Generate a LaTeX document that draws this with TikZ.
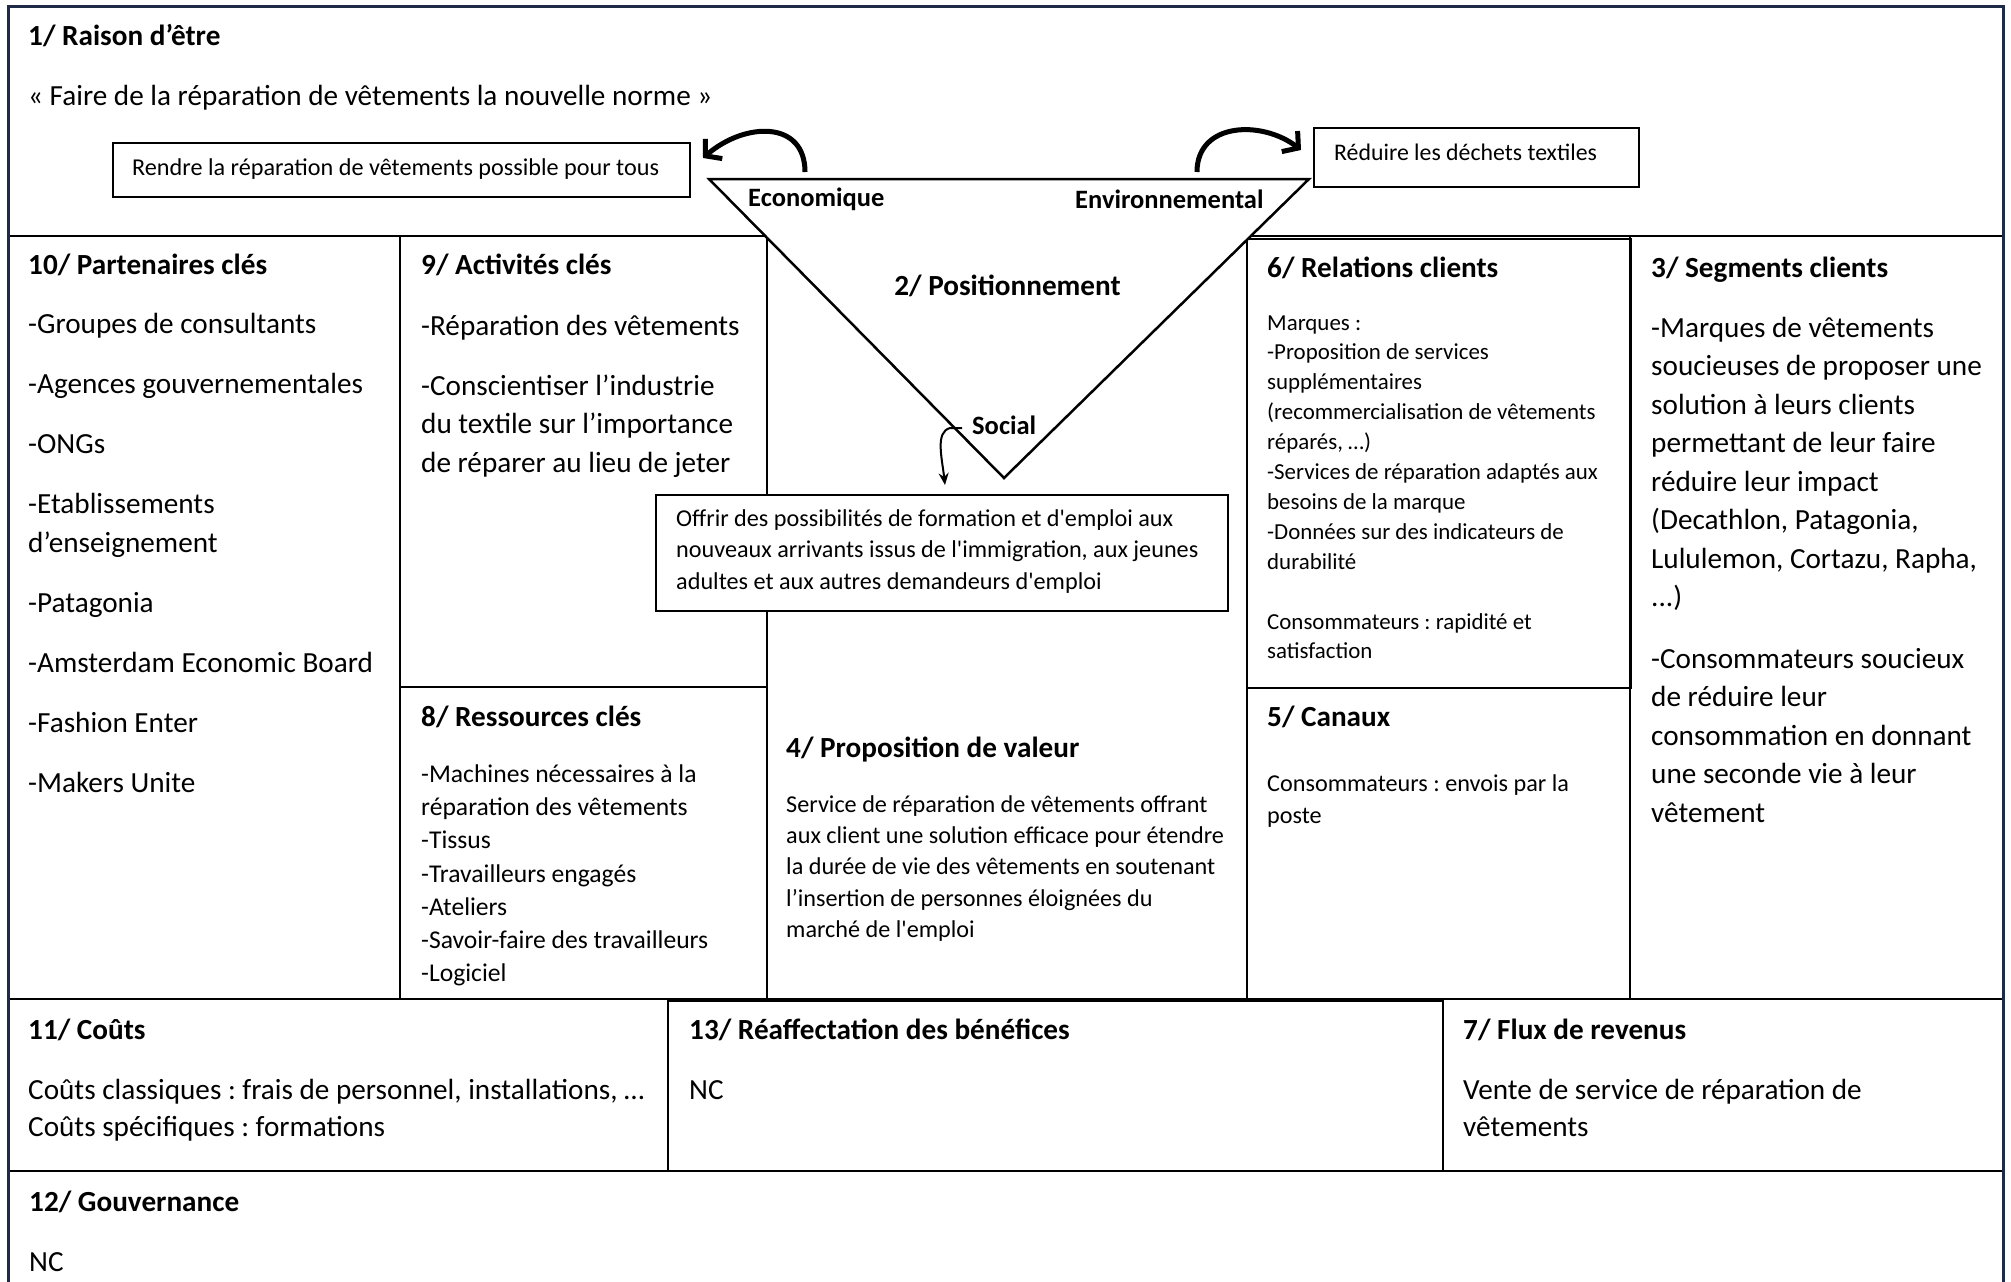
\documentclass[tikz,border=0pt]{standalone}
\usepackage{fontspec}
\setmainfont{Carlito}[Ligatures=TeXOff]
\usetikzlibrary{arrows.meta}
\definecolor{framecol}{RGB}{30,42,72}
\frenchspacing
\tikzset{
  hdr/.style={inner sep=0, anchor=base west, font=\fontsize{29.2}{35}\selectfont\bfseries},
  body/.style={inner sep=0, anchor=base west, font=\fontsize{29.2}{38.5}\selectfont},
  small/.style={inner sep=0, anchor=base west, font=\fontsize{22.9}{29.9}\selectfont},
  note txt/.style={inner sep=0, anchor=base west, font=\fontsize{24.2}{31.5}\selectfont},
  mid/.style={inner sep=0, anchor=base west, font=\fontsize{29.2}{37}\selectfont},
  lbl/.style={inner sep=0, anchor=base west, font=\fontsize{26.5}{30}\selectfont\bfseries},
  cell/.style={line width=1.5pt, draw=black},
  note/.style={draw=black, line width=1.5pt, fill=white},
  bigarrow/.style={line width=5pt, -{Straight Barb[length=11pt,width=26pt,line width=5pt]}},
}
\newcommand{\lns}[2][900pt]{\parbox[t]{#1}{\raggedright #2}}
\begin{document}
\begin{tikzpicture}[x=1pt,y=-1pt]
\useasboundingbox[fill=white] (0,0) rectangle (2011,1282);

% coordinates of grid
\coordinate (L) at (8,6);
\coordinate (R) at (2003,6);

% grid lines
\draw[cell] (8,236) -- (2003,236);
\draw[cell] (400,236) -- (400,999);
\draw[cell] (767,236) -- (767,999);
\draw[cell] (1247,236) -- (1247,999);
\draw[cell] (1630,236) -- (1630,999);
\draw[cell] (400,687) -- (767,687);
\draw[cell] (1247,239) rectangle (1631,688);
\draw[cell] (8,999) -- (2003,999);
\draw[cell] (668,999) -- (668,1171);
\draw[cell] (1443,999) -- (1443,1171);
\draw[cell] (8,1171) -- (2003,1171);
\draw[line width=2pt] (668,1001) rectangle (1443,1171);
\draw[line width=2.5pt] (767,999) -- (1028,999);

% outer frame
\draw[framecol, line width=3pt] (8,1282) -- (L) -- (R) -- (2003,1282);

% triangle
\coordinate (T1) at (709,179);
\coordinate (T2) at (1309,179);
\coordinate (T3) at (1004,478);
\draw[line width=2.5pt, fill=white, line join=miter] (T1) -- (T2) -- (T3) -- cycle;

% note boxes
\node[note, minimum width=577pt, minimum height=54pt, inner sep=0, anchor=north west] (boxR) at (112,142) {};
\node[note, minimum width=325pt, minimum height=59pt, inner sep=0, anchor=north west] (boxD) at (1313,127) {};
\node[note, minimum width=572pt, minimum height=116pt, inner sep=0, anchor=north west] (boxO) at (655,494) {};

% arrows
\coordinate (E1) at (805,172);
\coordinate (E2) at (703,158);
\draw[bigarrow] (E1) .. controls (805,120) and (745,122) .. (E2);
\coordinate (V1) at (1197,172);
\coordinate (V2) at (1301,150);
\draw[bigarrow] (V1) .. controls (1197,122) and (1262,120) .. (V2);
\coordinate (S0) at (962,428);
\coordinate (S2) at (945,485);
\draw[line width=2pt, -{Stealth[length=12pt,width=10pt]}] (S0) -- (950,428) .. controls (935,432) and (942,458) .. (S2);

% texts section 1
\node[hdr] (h1) at (28,45) {1/ Raison d’être};
\node[mid] (t1) at (28,105) {« Faire de la réparation de vêtements la nouvelle norme »};
\node[note txt] (tR) at (132,175) {Rendre la réparation de vêtements possible pour tous};
\node[small, font=\fontsize{23.8}{29.9}\selectfont] (tD) at (1334,160) {Réduire les déchets textiles};
\node[lbl] (eco) at (748,206) {Economique};
\node[lbl] (env) at (1075,208) {Environnemental};
\node[lbl] (soc) at (972,434) {Social};
\node[hdr, anchor=base] (h2) at (1007.5,295) {2/ Positionnement};
\node[note txt] (tO) at (676,526) {\lns{Offrir des possibilités de formation et d'emploi aux\\nouveaux arrivants issus de l'immigration, aux jeunes\\adultes et aux autres demandeurs d'emploi}};

% 10
\node[hdr] (h10) at (28,274) {10/ Partenaires clés};
\node[body] (t10) at (28,333.5) {\lns{-Groupes de consultants\\[21.5pt]-Agences gouvernementales\\[21.5pt]-ONGs\\[21.5pt]-Etablissements\\d’enseignement\\[21.5pt]-Patagonia\\[21.5pt]-Amsterdam Economic Board\\[21.5pt]-Fashion Enter\\[21.5pt]-Makers Unite}};

% 9
\node[hdr] (h9) at (421,274) {9/ Activités clés};
\node[body] (t9) at (421,335) {\lns{-Réparation des vêtements\\[21.5pt]-Conscientiser l’industrie\\du textile sur l’importance\\de réparer au lieu de jeter}};

% 8
\node[hdr] (h8) at (421,726) {8/ Ressources clés};
\node[inner sep=0, anchor=base west, font=\fontsize{25.6}{33.2}\selectfont] (t8) at (421,782.5) {\lns{-Machines nécessaires à la\\réparation des vêtements\\-Tissus\\-Travailleurs engagés\\-Ateliers\\-Savoir-faire des travailleurs\\-Logiciel}};

% 4
\node[hdr] (h4) at (786,757) {4/ Proposition de valeur};
\node[note txt, font=\fontsize{24.2}{31.4}\selectfont] (t4) at (786,812) {\lns{Service de réparation de vêtements offrant\\aux client une solution efficace pour étendre\\la durée de vie des vêtements en soutenant\\l’insertion de personnes éloignées du\\marché de l'emploi}};

% 6
\node[hdr] (h6) at (1267,277) {6/ Relations clients};
\node[small] (t6) at (1267,330) {\lns{Marques :\\-Proposition de services\\supplémentaires\\(recommercialisation de vêtements\\réparés, …)\\-Services de réparation adaptés aux\\besoins de la marque\\-Données sur des indicateurs de\\durabilité\\[29.9pt]Consommateurs : rapidité et\\satisfaction}};

% 5
\node[hdr] (h5) at (1267,726) {5/ Canaux};
\node[note txt, font=\fontsize{24.2}{32}\selectfont] (t5) at (1267,791) {\lns{Consommateurs : envois par la\\poste}};

% 3
\node[hdr] (h3) at (1651,277) {3/ Segments clients};
\node[body] (t3) at (1651,337) {\lns{-Marques de vêtements\\soucieuses de proposer une\\solution à leurs clients\\permettant de leur faire\\réduire leur impact\\(Decathlon, Patagonia,\\Lululemon, Cortazu, Rapha,\\...)\\[23pt]-Consommateurs soucieux\\de réduire leur\\consommation en donnant\\une seconde vie à leur\\vêtement}};

% row 3
\node[hdr] (h11) at (28,1039) {11/ Coûts};
\node[mid] (t11) at (28,1099) {\lns{Coûts classiques : frais de personnel, installations, …\\Coûts spécifiques : formations}};
\node[hdr] (h13) at (689,1039) {13/ Réaffectation des bénéfices};
\node[mid] (t13) at (689,1099) {NC};
\node[hdr] (h7) at (1463,1039) {7/ Flux de revenus};
\node[mid] (t7) at (1463,1099) {\lns{Vente de service de réparation de\\vêtements}};

% row 4
\node[hdr] (h12) at (29,1211) {12/ Gouvernance};
\node[mid] (t12) at (29,1271) {NC};
\end{tikzpicture}
\end{document}
